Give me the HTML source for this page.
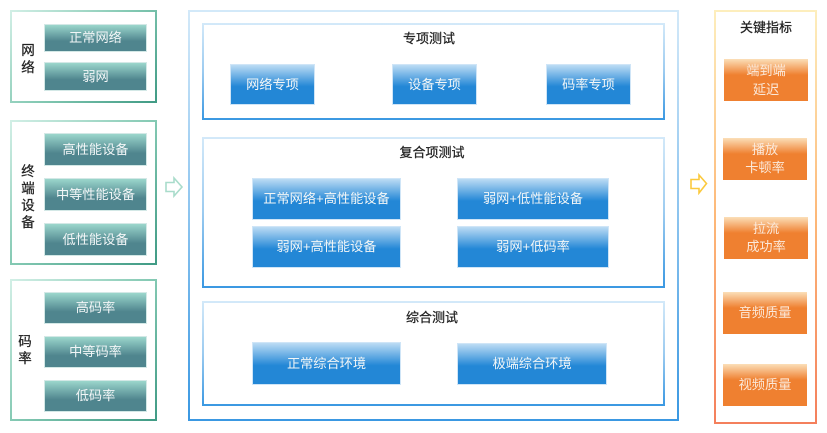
<!DOCTYPE html>
<html><head><meta charset="utf-8"><style>
html,body{margin:0;padding:0;background:#fff;width:827px;height:433px;overflow:hidden}
#w{position:absolute;left:0;top:0;width:827px;height:433px;filter:blur(.3px);font-family:"Liberation Sans","Noto Sans CJK SC",sans-serif;font-size:13.2px}
.a{position:absolute;box-sizing:border-box}
.g,.m,.s,.o{border:2px solid transparent}
.g{background:linear-gradient(#fff,#fff) padding-box,linear-gradient(135deg,#d2efe6,#84c9b3 50%,#3f9a84) border-box}
.m{background:linear-gradient(#fff,#fff) padding-box,linear-gradient(180deg,#d3e9f9,#8cc4ef 50%,#3a98e2) border-box}
.s{background:linear-gradient(#fff,#fff) padding-box,linear-gradient(180deg,#d3e9f9,#9ccbf0 50%,#3a98e2) border-box}
.o{background:linear-gradient(#fff,#fff) padding-box,linear-gradient(180deg,#fdeebd,#fdb878 50%,#f47f5c) border-box}
.b{display:flex;align-items:center;justify-content:center;text-align:center;color:#f2f6f7;line-height:20px;border:1px solid}
.t{background:linear-gradient(180deg,#9bd6cc 0,#4f858e 62%,#4f858e 100%);border-color:#d3e8e6}
.u{background:linear-gradient(180deg,#bcdcf4 0,#2387d6 55%,#2387d6 100%);border-color:#cfe5f7}
.r{background:linear-gradient(180deg,#fbdfb8 0,#ef8030 38%,#ef8030 100%);border:0;color:#fbe9da}
.l{color:#222;text-align:center;line-height:17px;font-size:13.5px;-webkit-text-stroke:.25px #222}
.h{color:#222;text-align:center;font-size:13px;line-height:16px;-webkit-text-stroke:.25px #222}
</style></head><body><div id="w">
<div class="a g" style="left:10px;top:10px;width:147px;height:93px"></div>
<div class="a g" style="left:10px;top:120px;width:147px;height:145px"></div>
<div class="a g" style="left:10px;top:279px;width:147px;height:142px"></div>
<div class="a l" style="left:20px;top:42px;width:16px">网<br>络</div>
<div class="a l" style="left:20px;top:163px;width:16px">终<br>端<br>设<br>备</div>
<div class="a l" style="left:17px;top:333px;width:16px">码<br>率</div>
<div class="a b t" style="left:44px;top:24px;width:103px;height:28px">正常网络</div>
<div class="a b t" style="left:44px;top:62px;width:103px;height:29px">弱网</div>
<div class="a b t" style="left:44px;top:133px;width:103px;height:33px">高性能设备</div>
<div class="a b t" style="left:44px;top:178px;width:103px;height:33px">中等性能设备</div>
<div class="a b t" style="left:44px;top:223px;width:103px;height:33px">低性能设备</div>
<div class="a b t" style="left:44px;top:292px;width:103px;height:32px">高码率</div>
<div class="a b t" style="left:44px;top:336px;width:103px;height:32px">中等码率</div>
<div class="a b t" style="left:44px;top:380px;width:103px;height:32px">低码率</div>

<svg class="a" style="left:164px;top:176px" width="20" height="22"><path d="M2 6.5H10V2L18 11 10 20V15.5H2Z" fill="#fff" stroke="#a9dccb" stroke-width="1.6"/></svg>

<div class="a m" style="left:188px;top:10px;width:491px;height:411px"></div>
<div class="a s" style="left:202px;top:23px;width:463px;height:97px"></div>
<div class="a s" style="left:202px;top:137px;width:463px;height:151px"></div>
<div class="a s" style="left:202px;top:301px;width:463px;height:105px"></div>
<div class="a h" style="left:389px;top:31px;width:80px">专项测试</div>
<div class="a h" style="left:382px;top:145px;width:100px">复合项测试</div>
<div class="a h" style="left:392px;top:310px;width:80px">综合测试</div>
<div class="a b u" style="left:230px;top:64px;width:85px;height:41px">网络专项</div>
<div class="a b u" style="left:392px;top:64px;width:85px;height:41px">设备专项</div>
<div class="a b u" style="left:546px;top:64px;width:85px;height:41px">码率专项</div>
<div class="a b u" style="left:252px;top:178px;width:149px;height:42px">正常网络+高性能设备</div>
<div class="a b u" style="left:457px;top:178px;width:152px;height:42px">弱网+低性能设备</div>
<div class="a b u" style="left:252px;top:226px;width:149px;height:42px">弱网+高性能设备</div>
<div class="a b u" style="left:457px;top:226px;width:152px;height:42px">弱网+低码率</div>
<div class="a b u" style="left:252px;top:342px;width:149px;height:43px">正常综合环境</div>
<div class="a b u" style="left:457px;top:343px;width:150px;height:42px">极端综合环境</div>

<svg class="a" style="left:689px;top:173px" width="20" height="22"><path d="M2 6.5H10V2L17.5 10.5 10 20V15.5H2Z" fill="#fff" stroke="#fbc93d" stroke-width="1.6"/></svg>

<div class="a o" style="left:714px;top:10px;width:103px;height:414px"></div>
<div class="a h" style="left:726px;top:20px;width:80px">关键指标</div>
<div class="a b r" style="left:724px;top:59px;width:84px;height:42px;line-height:19px">端到端<br>延迟</div>
<div class="a b r" style="left:723px;top:138px;width:84px;height:42px;line-height:18px">播放<br>卡顿率</div>
<div class="a b r" style="left:724px;top:217px;width:84px;height:42px;line-height:18px">拉流<br>成功率</div>
<div class="a b r" style="left:723px;top:292px;width:84px;height:42px">音频质量</div>
<div class="a b r" style="left:723px;top:364px;width:84px;height:42px">视频质量</div>
</div></body></html>
